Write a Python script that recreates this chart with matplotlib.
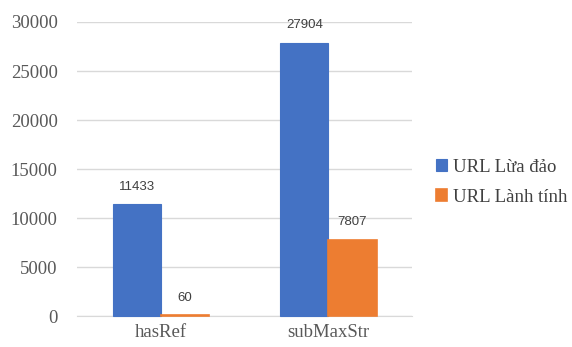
import numpy as np
import matplotlib.pyplot as plt

features = ["hasRef", "subMaxStr"]
phishing = [11433, 27904]
benign = [60, 7807]
series_names = ["URL Lừa đảo", "URL Lành tính"]

blue = "#4472c4"
orange = "#ed7d31"
grey = "#595959"

fig = plt.figure(figsize=(5.72, 3.47), dpi=100)
ax = fig.add_axes([0.1346, 0.0893, 0.586, 0.8473])

x = np.arange(len(features))
w = 0.2875
b1 = ax.bar(x - w / 2, phishing, w, color=blue, edgecolor=blue,
            linewidth=0.8, label=series_names[0], zorder=3, clip_on=False)
b2 = ax.bar(x + w / 2, benign, w, color=orange, edgecolor=orange,
            linewidth=1.2, label=series_names[1], zorder=3, clip_on=False)

for bars in (b1, b2):
    for rect in bars:
        h = rect.get_height()
        ax.annotate(f"{h:.0f}", (rect.get_x() + rect.get_width() / 2, h),
                    textcoords="offset points", xytext=(0, 8),
                    ha="center", va="bottom", fontsize=9.5,
                    family="Liberation Sans", color="#404040")

ax.set_xlim(-0.5, 1.5)
ax.set_ylim(0, 30000)
ax.set_yticks(range(0, 30001, 5000))
ax.set_xticks(x)
ax.set_xticklabels(features)
ax.grid(axis="y", color="#d9d9d9", linewidth=1)
ax.set_axisbelow(True)
for s in ["top", "right", "left"]:
    ax.spines[s].set_visible(False)
ax.spines["bottom"].set_color("#d9d9d9")
ax.spines["bottom"].set_zorder(1)
ax.tick_params(length=0, colors=grey, labelsize=13.5, pad=6)
for lbl in ax.get_xticklabels() + ax.get_yticklabels():
    lbl.set_family("Liberation Serif")
ax.tick_params(axis="y", pad=14)

ax.legend(loc="center left", bbox_to_anchor=(1.02, 0.455), frameon=False,
          prop={"family": "Liberation Serif", "size": 13.5},
          handlelength=0.6, handleheight=0.6, handletextpad=0.3,
          labelspacing=0.7, labelcolor="#404040")

fig.savefig("out.png", dpi=100)
